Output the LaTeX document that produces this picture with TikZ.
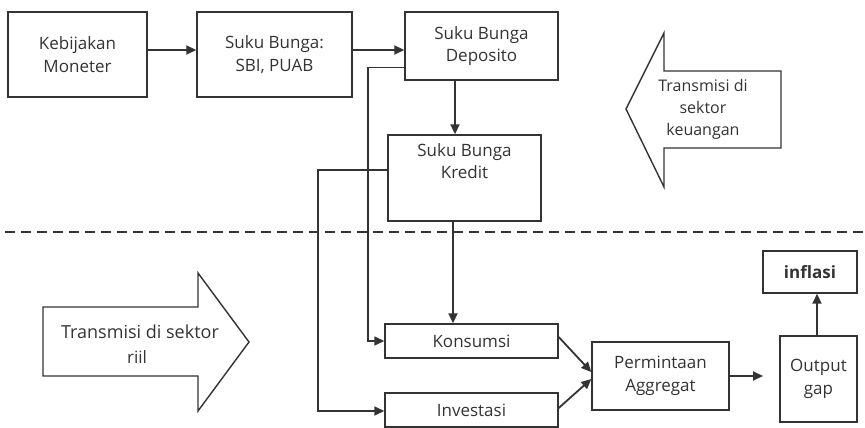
\documentclass[tikz,border=0pt]{standalone}
\usepackage{fontspec}
\setmainfont{Open Sans}
\usetikzlibrary{arrows.meta}
\definecolor{ink}{HTML}{333333}
\begin{document}
\begin{tikzpicture}[x=1pt,y=-1pt,
  box/.style={draw=ink, text=ink, line width=1.4pt, rectangle, inner sep=0pt, align=center,
    font=\fontsize{17}{22.7}\selectfont},
  arr/.style={draw=ink, line width=1.8pt, -{Triangle[length=10pt,width=9pt]}},
  thinline/.style={draw=ink, line width=0.9pt},
  bigarrow/.style={draw=ink, line width=1.4pt, line join=miter},
  lbl/.style={text=ink, align=center, inner sep=0pt}
]
\useasboundingbox (0,0) rectangle (865,428);

% boxes
\node[box, minimum width=139pt, minimum height=85pt] (km) at (77.5,54.5) {Kebijakan\\Moneter};
\node[box, minimum width=155pt, minimum height=85pt] (sbi) at (274.5,54.5) {Suku Bunga:\\SBI, PUAB};
\node[box, minimum width=153pt, minimum height=68pt] (dep) at (481.5,46) {Suku Bunga\\Deposito};
\node[box, minimum width=153pt, minimum height=86pt] (kre) at (464.5,178) {};
\node[lbl, font=\fontsize{17}{22.7}\selectfont, anchor=north] (kretxt) at (464.5,143) {Suku Bunga\\Kredit};
\node[box, minimum width=173pt, minimum height=34pt] (kons) at (471.5,341) {Konsumsi};
\node[box, minimum width=173pt, minimum height=34pt] (inv) at (471.5,410) {Investasi};
\node[box, minimum width=137pt, minimum height=68pt] (pa) at (660.5,376) {Permintaan\\Aggregat};
\node[box, minimum width=77pt, minimum height=86pt] (og) at (818.5,379) {Output\\gap};
\node[box, minimum width=94pt, minimum height=42pt, font=\bfseries\fontsize{17}{22.7}\selectfont] (inf) at (810,272) {inflasi};

% big arrows
\draw[bigarrow] (626,109) -- (664,33) -- (664,71) -- (781,71) -- (781,148) -- (664,148) -- (664,187) -- cycle;
\node[lbl, font=\fontsize{16}{22}\selectfont] (tk) at (703,109) {Transmisi di\\sektor\\keuangan};
\draw[bigarrow] (43,307) -- (198,307) -- (198,273) -- (249,342) -- (198,411) -- (198,376) -- (43,376) -- cycle;
\node[lbl, font=\fontsize{18}{24}\selectfont] (tr1) at (140,332) {Transmisi di sektor};
\node[lbl, font=\fontsize{17}{22}\selectfont] (tr2) at (137,357) {riil};

% dashed divider
\coordinate (dl) at (5,232);
\coordinate (dr) at (865,232);
\draw[draw=ink, line width=1.6pt, dash pattern=on 10pt off 6pt] (dl) -- (dr);

% connectors
\draw[arr] ([yshift=4.5pt]km.east) -- ([yshift=4.5pt]sbi.west);
\draw[arr] ([yshift=4.5pt]sbi.east) -- ([yshift=-4pt]dep.west);
\draw[arr] ([xshift=-26.5pt]dep.south) -- ([xshift=-9.5pt]kre.north);
\draw[thinline] ([yshift=-21pt]dep.west) -- (368,67);
\draw[arr, line width=1.5pt] (368,67) |- (kons.west);
\draw[arr, line width=1.5pt] ([yshift=8pt]kre.west) -- (318,170) |- ([yshift=-1pt]inv.west);
\draw[arr] ([xshift=-11.5pt]kre.south) -- ([xshift=-11.5pt]kre.south |- kons.north);
\draw[arr] ([yshift=4pt]kons.east) -- ([yshift=4pt]pa.west);
\draw[arr] ([yshift=2pt]inv.east) -- ([yshift=-3pt]pa.west);
\coordinate (paend) at (763,376);
\draw[arr] (pa.east) -- (paend);
\draw[arr] ([xshift=-1.5pt]og.north) -- ([xshift=-1.5pt]og.north |- inf.south);
\end{tikzpicture}
\end{document}
